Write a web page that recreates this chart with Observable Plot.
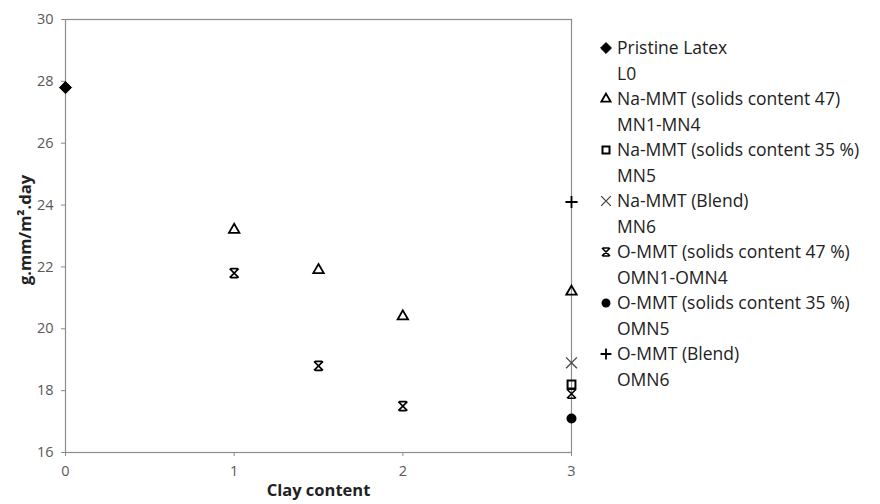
<!DOCTYPE html>
<html><head><meta charset="utf-8">
<script src="https://cdn.jsdelivr.net/npm/d3@7"></script>
<script src="https://cdn.jsdelivr.net/npm/@observablehq/plot@0.6"></script>
<style>
body{margin:0;background:#fff;font-family:"Open Sans",sans-serif;}
#wrap{position:relative;width:880px;height:504px;}
#legend{position:absolute;left:598px;top:35px;font-size:17.5px;color:#222;}
.entry .ln{height:25.5px;line-height:25.5px;white-space:nowrap;padding-left:19px;position:relative;}
.entry svg{position:absolute;left:0;top:4px;}
</style></head>
<body><div id="wrap"><div id="chart"></div><div id="legend"></div></div>
<script>
// Data
const latexX = [0], latexY = [27.8];
const mn14X = [1, 1.5, 2, 3], mn14Y = [23.2, 21.9, 20.4, 21.2];
const mn5X = [3], mn5Y = [18.2];
const mn6X = [3], mn6Y = [18.9];
const omn14X = [1, 1.5, 2, 3], omn14Y = [21.8, 18.8, 17.5, 17.9];
const omn5X = [3], omn5Y = [17.1];
const omn6X = [3], omn6Y = [24.1];
const xTicks = [0, 1, 2, 3];
const yTicks = [16, 18, 20, 22, 24, 26, 28, 30];
const legendLine1 = ["Pristine Latex", "Na-MMT (solids content 47)", "Na-MMT (solids content 35 %)", "Na-MMT (Blend)", "O-MMT (solids content 47 %)", "O-MMT (solids content 35 %)", "O-MMT (Blend)"];
const legendLine2 = ["L0", "MN1-MN4", "MN5", "MN6", "OMN1-OMN4", "OMN5", "OMN6"];

const rows = (xs, ys) => xs.map((x, i) => ({x, y: ys[i]}));

// Excel-style star marker: X with caps at top and bottom
const starSym = {
  draw(ctx, size) {
    const r = Math.sqrt(size / Math.PI);
    ctx.moveTo(-r, -r); ctx.lineTo(r, r);
    ctx.moveTo(r, -r); ctx.lineTo(-r, r);
    ctx.moveTo(-r * 0.8, -r); ctx.lineTo(r * 0.8, -r);
    ctx.moveTo(-r * 0.8, r); ctx.lineTo(r * 0.8, r);
  }
};

const styles = [
  {data: rows(latexX, latexY), symbol: "diamond2", r: 5.5, fill: "#000", stroke: "#000", sw: 1},
  {data: rows(mn14X, mn14Y), symbol: "triangle2", r: 5, fill: "none", stroke: "#000", sw: 1.8},
  {data: rows(mn5X, mn5Y), symbol: "square2", r: 5, fill: "none", stroke: "#000", sw: 2},
  {data: rows(mn6X, mn6Y), symbol: "times", r: 5, fill: "none", stroke: "#444", sw: 1.3},
  {data: rows(omn14X, omn14Y), symbol: starSym, r: 4.5, fill: "none", stroke: "#000", sw: 1.6},
  {data: rows(omn5X, omn5Y), symbol: "circle", r: 5, fill: "#000", stroke: "#000", sw: 0},
  {data: rows(omn6X, omn6Y), symbol: "plus", r: 4, fill: "none", stroke: "#000", sw: 1.8}
];

const chart = Plot.plot({
  width: 590, height: 504,
  marginLeft: 65, marginRight: 19, marginTop: 19, marginBottom: 52,
  style: {fontFamily: "Open Sans, sans-serif", background: "#fff"},
  x: {domain: [0, 3], ticks: xTicks},
  y: {domain: [16, 30], ticks: yTicks},
  marks: [
    Plot.frame({stroke: "#8c8c8c", strokeWidth: 1.2}),
    Plot.axisX({ticks: xTicks, tickFormat: "d", tickSize: 4, tickPadding: 9, stroke: "#8c8c8c", color: "#595959", fontSize: 14.5, label: null}),
    Plot.axisY({ticks: yTicks, tickFormat: "d", tickSize: 4, tickPadding: 8, stroke: "#8c8c8c", color: "#595959", fontSize: 14.5, label: null}),
    Plot.text(["Clay content"], {frameAnchor: "bottom", dy: 43, fontSize: 16.5, fontWeight: "bold", fill: "#222"}),
    Plot.text(["g.mm/m².day"], {frameAnchor: "left", textAnchor: "middle", dx: -40, dy: -6, rotate: -90, fontSize: 16.5, fontWeight: "bold", fill: "#222"}),
    ...styles.map(s => Plot.dot(s.data, {x: "x", y: "y", symbol: () => s.symbol, r: s.r, fill: s.fill, stroke: s.stroke, strokeWidth: s.sw}))
  ]
});
document.getElementById("chart").appendChild(chart);

// Legend
const d3sym = {diamond2: d3.symbolDiamond2, triangle2: d3.symbolTriangle2, square2: d3.symbolSquare2, times: d3.symbolTimes, circle: d3.symbolCircle, plus: d3.symbolPlus};
const leg = d3.select("#legend");
styles.forEach((s, i) => {
  const e = leg.append("div").attr("class", "entry");
  const l1 = e.append("div").attr("class", "ln");
  const svg = l1.append("svg").attr("width", 16).attr("height", 18);
  const type = typeof s.symbol === "string" ? d3sym[s.symbol] : s.symbol;
  svg.append("path")
    .attr("transform", "translate(8,9)")
    .attr("d", d3.symbol(type, Math.PI * s.r * s.r * 0.8)())
    .attr("fill", s.fill).attr("stroke", s.stroke).attr("stroke-width", s.sw);
  l1.append("span").text(legendLine1[i]);
  e.append("div").attr("class", "ln").text(legendLine2[i]);
});
</script></body></html>
